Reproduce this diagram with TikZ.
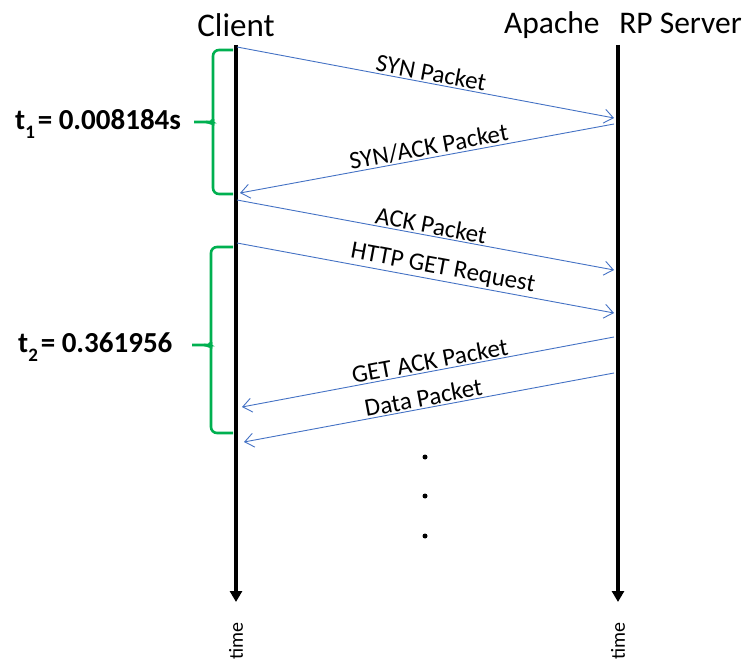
\documentclass[tikz,border=0pt]{standalone}
\usepackage{fontspec}
\setmainfont{Carlito}
\usetikzlibrary{arrows.meta}

\definecolor{msgblue}{HTML}{4472C4}
\definecolor{bracegreen}{HTML}{00B050}

\tikzset{
  lifeline/.style={line width=3.5pt, -{Triangle[length=11pt,width=12pt]}},
  msg/.style={msgblue, line width=0.9pt, -{Straight Barb[length=9pt,width=14pt,line width=0.9pt]}},
  msglabel/.style={text=black, font=\fontsize{25}{29}\selectfont, sloped, above=0.5pt, inner sep=1pt},
  bracepath/.style={bracegreen, line width=2.6pt, rounded corners=6pt},
  party/.style={font=\fontsize{33}{38}\selectfont, inner sep=0pt},
  timelabel/.style={font=\fontsize{20}{24}\selectfont, rotate=90, inner sep=0pt},
  tlabel/.style={font=\bfseries\fontsize{29}{34}\selectfont, anchor=base west, inner sep=0pt},
  dot/.style={circle, fill=black, inner sep=0pt, minimum size=5pt}
}

\begin{document}
\begin{tikzpicture}[x=1pt, y=-1pt]
  \useasboundingbox (0,0) rectangle (748,663);

  % participants
  \node[party] (client) at (236,25) {Client};
  \node[party, font=\fontsize{31.5}{36}\selectfont, anchor=east] (server) at (742,25) {Apache\hspace{0.4em} RP Server};

  % lifelines
  \coordinate (cTop) at (236,45);
  \coordinate (cBot) at (236,602);
  \coordinate (sTop) at (618,45);
  \coordinate (sBot) at (618,602);
  \draw[lifeline] (cTop) -- (cBot);
  \draw[lifeline] (sTop) -- (sBot);

  \node[timelabel] (ctime) at (236,641) {time};
  \node[timelabel] (stime) at (618,641) {time};

  % message end points
  \coordinate (m1a) at (237,47);   \coordinate (m1b) at (614,118);
  \coordinate (m2a) at (614,124);  \coordinate (m2b) at (240,193);
  \coordinate (m3a) at (237,200);  \coordinate (m3b) at (614,270);
  \coordinate (m4a) at (237,243);  \coordinate (m4b) at (614,313);
  \coordinate (m5a) at (614,337);  \coordinate (m5b) at (242,407);
  \coordinate (m6a) at (614,373);  \coordinate (m6b) at (244,442);

  % messages
  \draw[msg] (m1a) -- node[msglabel, pos=0.51] (l1) {SYN Packet} (m1b);
  \draw[msg] (m2a) -- node[msglabel, pos=0.49] (l2) {SYN/ACK Packet} (m2b);
  \draw[msg] (m3a) -- node[msglabel, pos=0.51] (l3) {ACK Packet} (m3b);
  \draw[msg] (m4a) -- node[msglabel, pos=0.54] (l4) {HTTP GET Request} (m4b);
  \draw[msg] (m5a) -- node[msglabel, pos=0.49] (l5) {GET ACK Packet} (m5b);
  \draw[msg] (m6a) -- node[msglabel, pos=0.51] (l6) {Data Packet} (m6b);

  % continuation dots
  \node[dot] (d1) at (425,457) {};
  \node[dot] (d2) at (425,496) {};
  \node[dot] (d3) at (425,536) {};

  % braces marking the measured intervals
  \draw[bracepath] (233,50) -- (213,50) -- (213,115) to[out=-90,in=0] (206,122) -- (194,122);
  \draw[bracepath] (233,194) -- (213,194) -- (213,129) to[out=90,in=0] (206,122);
  \draw[bracepath] (233,247) -- (211,247) -- (211,338) to[out=-90,in=0] (204,345) -- (192,345);
  \draw[bracepath] (233,433) -- (211,433) -- (211,352) to[out=90,in=0] (204,345);

  % interval labels
  \node[tlabel] (t1) at (15,130) {t\raisebox{-0.28em}{\fontsize{19}{22}\selectfont 1}\hspace{0.1em}= 0.008184s};
  \node[tlabel] (t2) at (18,353) {t\raisebox{-0.28em}{\fontsize{19}{22}\selectfont 2}\hspace{0.1em}= 0.361956};
\end{tikzpicture}
\end{document}
